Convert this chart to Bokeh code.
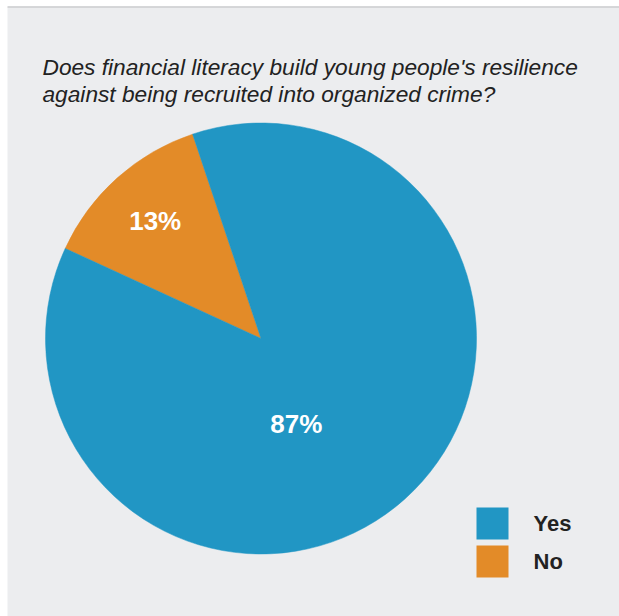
import math
from bokeh.plotting import figure
from bokeh.models import Range1d, Label
from bokeh.embed import file_html
from bokeh.resources import INLINE

# ---- data ----
title_lines = ["Does financial literacy build young people's resilience",
               "against being recruited into organized crime?"]
categories = ["Yes", "No"]
values = [87, 13]
colors = ["#2196C4", "#E38B28"]

# ---- layout / style ----
W, H = 619, 616
FONT = "Liberation Sans"
cx, cy, R = 260.5, H - 338, 215.5
start_deg = 108.5  # where the "No" slice begins (counter-clockwise order: No, Yes)
label_place = {"No": (0.0, 0.735), "Yes": (-19.5, 0.43)}  # (angle shift deg, radius fraction)

p = figure(width=W, height=H, x_range=Range1d(0, W), y_range=Range1d(0, H),
           output_backend="svg", toolbar_location=None, min_border=0,
           background_fill_color="white", border_fill_color="white",
           outline_line_color=None)
p.axis.visible = False
p.grid.visible = False

# panel
p.quad(left=7, right=W, bottom=0, top=H - 7, fill_color="#ECEDEF", line_color=None)
p.segment(x0=7, y0=H - 6.5, x1=W, y1=H - 6.5, line_color="#C9CACC", line_width=1.5)

# wedges
total = sum(values)
order = ["No", "Yes"]
ang = start_deg
for cat in order:
    i = categories.index(cat)
    span = values[i] / total * 360.0
    a0, a1 = ang, ang + span
    p.wedge(x=cx, y=cy, radius=R, start_angle=math.radians(a0), end_angle=math.radians(a1),
            fill_color=colors[i], line_color=colors[i], line_width=0.5)
    shift, rf = label_place[cat]
    mid = math.radians((a0 + a1) / 2 + shift)
    lx, ly = cx + rf * R * math.cos(mid), cy + rf * R * math.sin(mid)
    p.add_layout(Label(x=lx, y=ly, text=f"{values[i]}%", text_align="center",
                       text_baseline="middle", text_color="white", text_font=FONT,
                       text_font_style="bold", text_font_size="26px"))
    ang = a1

# title
for k, line in enumerate(title_lines):
    p.add_layout(Label(x=42, y=H - 66 - 27.5 * k, text=line, text_align="left",
                       text_baseline="middle", text_color="#222222", text_font=FONT,
                       text_font_style="italic", text_font_size="22.7px"))

# legend
for k, cat in enumerate(categories):
    i = categories.index(cat)
    top = H - 507 - 38 * k
    p.quad(left=476, right=508, top=top, bottom=top - 32, fill_color=colors[i], line_color=None)
    p.add_layout(Label(x=533, y=top - 16, text=cat, text_align="left", text_baseline="middle",
                       text_color="#222222", text_font=FONT, text_font_style="bold",
                       text_font_size="22px"))

open("out.html", "w").write(file_html(p, INLINE))
